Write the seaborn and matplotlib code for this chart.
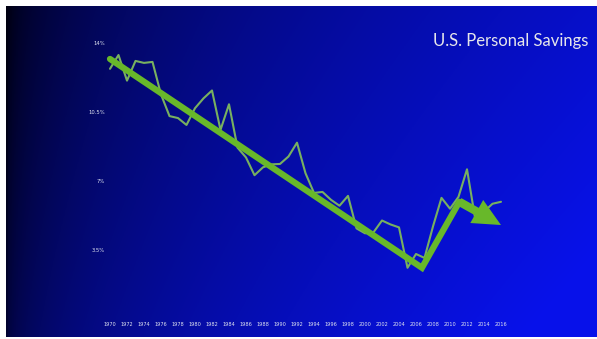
import numpy as np
import pandas as pd
import seaborn as sns
import matplotlib.pyplot as plt

# U.S. personal saving rate (%)
years = list(range(1970, 2017))
savings = [12.7, 13.4, 12.1, 13.1, 13.0, 13.05, 11.4, 10.3, 10.2, 9.85,
           10.7, 11.2, 11.6, 9.6, 10.9, 8.7, 8.2, 7.3, 7.7, 7.85,
           7.87, 8.25, 8.95, 7.4, 6.4, 6.45, 6.05, 5.75, 6.25, 4.6,
           4.35, 4.4, 5.0, 4.8, 4.65, 2.6, 3.3, 3.1, 4.7, 6.15,
           5.6, 6.2, 7.6, 5.0, 5.45, 5.85, 5.95]

# hand-drawn trend arrow
trend_years = [1970, 2006.7, 2011.1]
trend_vals = [13.2, 2.6, 5.95]
arrow_tip = (2016, 4.77)

xtick_years = list(range(1970, 2017, 2))
ytick_vals = [14, 10.5, 7, 3.5]
ytick_labels = ['14%', '10.5%', '7%', '3.5%']
title = 'U.S. Personal Savings'

W, H = 597, 339
# pixel mapping of the reference
px_1970, px_per_year = 110, 8.5
py_zero, py_per_pct = 319, 19.7
ax_l, ax_r, ax_t, ax_b = 6, 597, 6, 337

sns.set_theme(style='white')
plt.rcParams['font.family'] = ['Lato', 'DejaVu Sans']

fig = plt.figure(figsize=(W / 100, H / 100), dpi=100, facecolor='white')
ax = fig.add_axes([ax_l / W, (H - ax_b) / H, (ax_r - ax_l) / W, (ax_b - ax_t) / H])
xmin = 1970 - (px_1970 - ax_l) / px_per_year
xmax = 1970 + (ax_r - px_1970) / px_per_year
ymax = (py_zero - ax_t) / py_per_pct
ymin = (py_zero - ax_b) / py_per_pct

# background gradient: dark navy on the left -> bright blue on the right
gx, gy = np.meshgrid(np.linspace(0, 1, 300), np.linspace(0, 1, 200))
t = np.clip(0.9 * gx ** 0.45 + 0.2 * gy - 0.05, 0, 1)
rgb = np.zeros(gx.shape + (3,))
rgb[..., 0] = 0.03 * t
rgb[..., 1] = 0.07 * t
rgb[..., 2] = 0.06 + 0.86 * t
ax.imshow(rgb, extent=[xmin, xmax, ymin, ymax], aspect='auto', origin='upper', zorder=0)

df = pd.DataFrame({'year': years, 'saving': savings})
sns.lineplot(data=df, x='year', y='saving', color='#78b060', lw=1.5, ax=ax, zorder=2)

green = '#68b82a'
trend = pd.DataFrame({'year': trend_years, 'value': trend_vals})
sns.lineplot(data=trend, x='year', y='value', color=green, lw=4.5,
             solid_capstyle='round', solid_joinstyle='miter', ax=ax, zorder=3)
ax.annotate('', xy=arrow_tip, xytext=(trend_years[-1], trend_vals[-1]),
            arrowprops=dict(arrowstyle='simple,head_length=1.0,head_width=0.95,tail_width=0.3',
                            color=green, lw=0, mutation_scale=20,
                            shrinkA=0, shrinkB=0), zorder=3)

for yr in xtick_years:
    ax.text(yr, (py_zero - 325) / py_per_pct, str(yr), color='#dfe3f0',
            fontsize=3.6, ha='center', va='center', family='DejaVu Sans')
for v, lab in zip(ytick_vals, ytick_labels):
    ax.text(1970 - 5 / px_per_year, v, lab, color='#dfe3f0', fontsize=3.8,
            ha='right', va='center', family='DejaVu Sans')

ax.text(0.985, 0.895, title, transform=ax.transAxes, color='#e6e6ea',
        fontsize=12, ha='right', va='center')

ax.set_xlim(xmin, xmax)
ax.set_ylim(ymin, ymax)
ax.set_axis_off()

fig.savefig('out.png', dpi=100, facecolor='white')
